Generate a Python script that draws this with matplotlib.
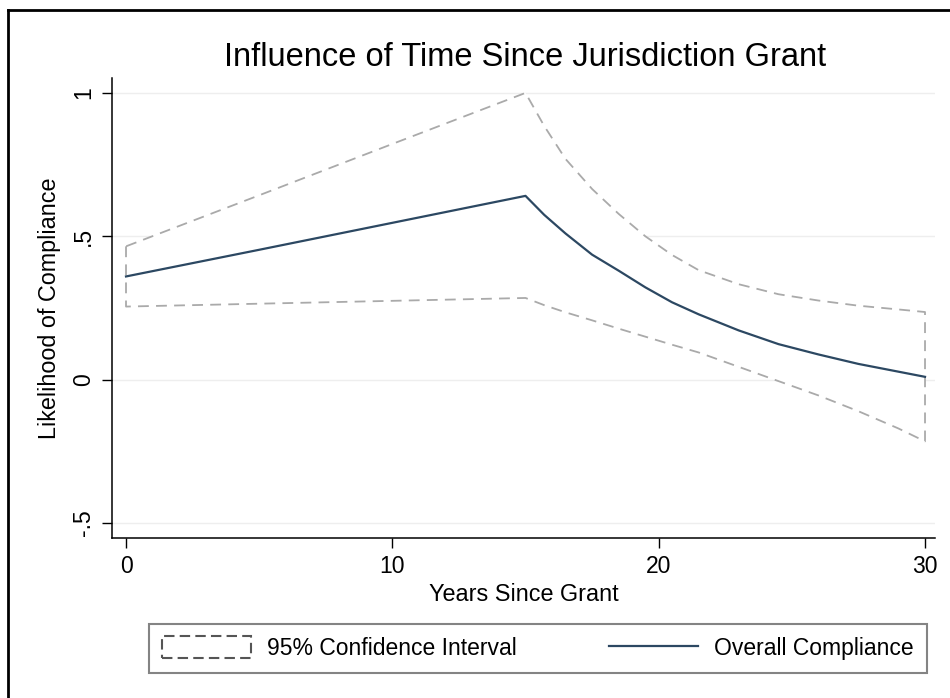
import numpy as np
import matplotlib.pyplot as plt
from matplotlib.lines import Line2D

plt.rcParams['font.family'] = ['Liberation Sans', 'DejaVu Sans']

# Data
years = [0, 5, 10, 15, 15.7, 16.5, 17.5, 18.5, 19.5, 20.5, 21.5, 23, 24.5, 26, 27.5, 29, 30]
compliance = [0.36, 0.453, 0.547, 0.641, 0.575, 0.51, 0.436, 0.38, 0.322, 0.27, 0.228,
              0.172, 0.124, 0.088, 0.055, 0.028, 0.01]
ci_upper = [0.465, 0.643, 0.822, 1.0, 0.885, 0.77, 0.665, 0.578, 0.5, 0.435, 0.382,
            0.333, 0.298, 0.276, 0.258, 0.245, 0.236]
ci_lower = [0.255, 0.265, 0.275, 0.285, 0.26, 0.235, 0.207, 0.178, 0.15, 0.122, 0.095,
            0.045, -0.005, -0.055, -0.11, -0.17, -0.215]

yticks = [-0.5, 0, 0.5, 1]
ytick_labels = ['-.5', '0', '.5', '1']
xticks = [0, 10, 20, 30]

W, H = 950, 698
fig = plt.figure(figsize=(W / 100, H / 100), dpi=100)
fig.patch.set_facecolor('white')

# axes box in pixels: left 112, right 935, top 78, bottom 538
ax = fig.add_axes([112 / W, 1 - 538 / H, (935 - 112) / W, (538 - 78) / H])
ax.set_xlim(-0.526, 30.375)
ax.set_ylim(-0.552, 1.052)

for yv in yticks:
    ax.axhline(yv, color='#eeeeee', lw=1, zorder=0)

ax.fill_between(years, ci_lower, ci_upper, facecolor='white', edgecolor='#aaaaaa',
                linestyle=(0, (6, 4)), lw=1.3, label='95% Confidence Interval', zorder=2)
ax.plot(years, compliance, color='#2c4862', lw=1.6, label='Overall Compliance', zorder=3)

for s in ['top', 'right']:
    ax.spines[s].set_visible(False)
for s in ['left', 'bottom']:
    ax.spines[s].set_color('black')
    ax.spines[s].set_linewidth(1.1)

ax.set_xticks(xticks)
ax.set_xticklabels([str(v) for v in xticks])
ax.set_yticks(yticks)
ax.set_yticklabels(ytick_labels, rotation=90, va='center')
ax.tick_params(axis='both', direction='out', length=7, width=1, labelsize=16.5, colors='black', pad=5)

ax.set_xlabel('Years Since Grant', fontsize=16.8, labelpad=4)
ax.set_ylabel('Likelihood of Compliance', fontsize=16.8, labelpad=8)

fig.text(525 / W, 1 - 57 / H, 'Influence of Time Since Jurisdiction Grant',
         ha='center', va='center', fontsize=23.5)

leg = fig.legend(loc='center', bbox_to_anchor=(538 / W, 1 - 648 / H), ncol=2,
                 fontsize=16.5, frameon=True, fancybox=False, handlelength=3.9, handleheight=1.1,
                 columnspacing=4.0, borderpad=0.55, handletextpad=0.7)
leg.get_frame().set_edgecolor('#666666')
leg.get_frame().set_linewidth(1.5)
leg.legend_handles[0].set_edgecolor('#555555')
leg.legend_handles[0].set_linewidth(1.5)
leg.legend_handles[0].set_linestyle((0, (5, 2.5)))

# outer frame (left and top edges)
fig.add_artist(Line2D([8 / W, 8 / W], [0, 1 - 10 / H], color='black', lw=2))
fig.add_artist(Line2D([8 / W, 1], [1 - 10 / H, 1 - 10 / H], color='black', lw=2))

fig.savefig('out.png', dpi=100, facecolor='white')
